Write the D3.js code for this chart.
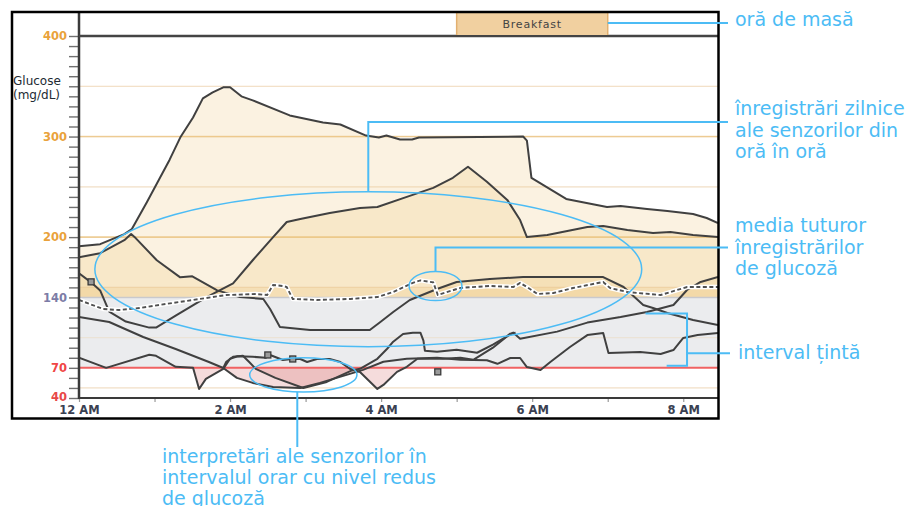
<!DOCTYPE html>
<html><head><meta charset="utf-8">
<script src="https://cdn.jsdelivr.net/npm/d3@7"></script>
<style>body{margin:0;background:#fff}svg{display:block}text{font-family:'DejaVu Sans',sans-serif}</style>
</head><body>
<svg id="c" width="907" height="506"></svg>
<script>
// ---------- DATA (hours after midnight, mg/dL) ----------
const traceA = [[0,191],[0.28,193],[0.6,203],[0.70,208],[0.9,235],[1.2,277],[1.34,299],[1.51,319],[1.64,338],[1.77,344],[1.91,349],[2.0,349],[2.15,340],[2.30,336],[2.79,321],[3.23,314],[3.46,312],[3.80,301],[3.97,299],[4.07,301],[4.25,297],[4.41,297],[4.50,299],[5.88,300],[5.93,296],[5.99,259],[6.45,238],[6.99,230],[7.17,231],[7.52,228],[7.79,226],[8.13,223],[8.31,219],[8.46,214]];
const traceB = [[0,164],[0.16,155],[0.28,147],[0.40,126],[0.62,116],[0.93,110],[1.02,110],[1.28,122],[1.64,138],[1.81,145],[2.04,154],[2.30,177],[2.57,200],[2.75,215],[2.93,218],[3.32,224],[3.72,229],[3.95,230],[4.34,240],[4.69,249],[4.95,259],[5.15,270],[5.40,255],[5.67,237],[5.84,217],[5.93,200],[6.20,202],[6.73,210],[6.94,211],[7.26,207],[7.6,204],[7.83,205],[8.13,202],[8.46,200]];
const traceC = [[0,180],[0.28,184],[0.6,197],[0.69,203],[0.75,199],[1.03,177],[1.34,160],[1.5,161],[1.83,147],[2.13,140.5],[2.44,138.5],[2.53,128.5],[2.66,110.6],[3.06,107.6],[3.85,107.6],[3.99,115.6],[4.16,125.5],[4.38,137.5],[4.74,148.4],[5.0,155.4],[5.44,158.3],[5.88,160.3],[6.94,160.3],[7.21,150.4],[7.47,132.5],[7.6,129.5],[7.79,124.5],[8.13,117.6],[8.46,112.6]];
const traceE = [[0,80],[0.36,70],[0.93,83],[1.02,82],[1.28,71],[1.51,70],[1.59,49],[1.68,59],[1.91,69],[2.0,79],[2.1,81.5],[2.3,81],[2.47,80],[2.53,82.8],[2.70,77.8],[2.82,78.8],[2.93,78.8],[3.02,75.8],[3.15,78.8],[3.32,78.8],[3.46,75.8],[3.59,68.8],[3.72,65.8],[3.95,49],[4.03,53],[4.21,66],[4.34,71],[4.48,79],[4.82,79],[5.05,80],[5.22,78],[5.48,90],[5.71,104],[5.78,105]];
const traceF = [[0,120.5],[0.40,115.6],[0.85,100.7],[1.28,88.7],[1.72,75.8],[1.91,69.8],[2.09,60],[2.30,55],[2.57,51],[2.93,50],[3.19,55],[3.63,65],[3.76,68],[4.03,76],[4.34,79],[4.74,80],[5.05,78],[5.40,77.5],[5.54,74],[5.71,79.8],[5.84,79.8],[5.93,70.8],[6.11,67.8],[6.24,75.8],[6.50,90.7],[6.73,102.6],[6.94,104.6],[7.01,84.7],[7.43,85.7],[7.70,83.8],[7.87,87.7],[8.0,99.7],[8.19,102.6],[8.46,104.6]];
const traceG = [[1.91,69.8],[1.95,76],[2.04,81],[2.17,82],[2.25,76],[2.34,69],[2.6,60],[2.97,50],[3.28,56],[3.60,67],[3.72,69],[3.95,79],[4.08,89],[4.16,96],[4.29,103.6],[4.42,105],[4.52,105],[4.56,97],[4.58,87],[4.74,86],[5.0,88],[5.27,85],[5.48,93],[5.75,105],[5.84,99],[6.33,106],[6.73,115],[7.17,120.5],[7.52,125.5],[7.87,132.5],[8.05,147.4],[8.23,155.4],[8.46,160.3]];
const meanTrace = [[0,137.5],[0.32,128.5],[0.53,127.5],[0.81,129.5],[1.06,132.5],[1.51,137.5],[1.95,142.4],[2.34,143.4],[2.49,142.4],[2.57,152.4],[2.70,151.4],[2.75,150.4],[2.83,138.5],[3.15,137.5],[3.59,138.5],[3.95,140.4],[4.16,145.4],[4.42,154.5],[4.52,157],[4.69,155],[4.75,142.5],[5.05,149.5],[5.44,151.4],[5.75,150.4],[5.84,154.4],[5.93,150.4],[6.07,143.4],[6.28,144.4],[6.54,149.4],[6.94,155.4],[7.03,149.4],[7.26,145.4],[7.70,142.4],[8.05,150.4],[8.46,150.4]];
const markers = [[0.16,155.5],[2.5,82.8],[2.83,78.8],[4.75,66]];
const yTickLabels = [400,300,200,140,70,40];
const yTickColors = ["#e9a23b","#e9a23b","#e9a23b","#7c7ca6","#f04545","#e84848"];
const xTickHours = [0,2,4,6,8];
const xTickLabels = ["12 AM","2 AM","4 AM","6 AM","8 AM"];
const gridValues = [350,300,250,200,150,100,50];
const eventLabels = ["Breakfast"];
const eventStart = [5];
const eventEnd = [7];
const targetLow = 70, targetHigh = 140;

// ---------- SCALES ----------
const x = d3.scaleLinear().domain([0, 8.46]).range([79, 718]);
const y = d3.scaleLinear().domain([40, 400]).range([398, 36]);
const svg = d3.select("#c");
const line = d3.line().x(d => x(d[0])).y(d => y(d[1]));
const traces = [traceA, traceB, traceC, traceE, traceF, traceG];

const defs = svg.append("defs");
defs.append("clipPath").attr("id","plot").append("rect")
  .attr("x",x(0)).attr("y",y(400)).attr("width",x(8.46)-x(0)).attr("height",y(40)-y(400));
defs.append("clipPath").attr("id","above").append("rect")
  .attr("x",x(0)).attr("y",y(400)).attr("width",x(8.46)-x(0)).attr("height",y(targetHigh)-y(400));
defs.append("clipPath").attr("id","below").append("rect")
  .attr("x",x(0)).attr("y",y(targetLow)).attr("width",x(8.46)-x(0)).attr("height",y(40)-y(targetLow));

const plot = svg.append("g").attr("clip-path","url(#plot)");

// grid
plot.selectAll("line.grid").data(gridValues).join("line").attr("class","grid")
  .attr("x1",x(0)).attr("x2",x(8.46)).attr("y1",d=>y(d)).attr("y2",d=>y(d))
  .attr("stroke",d => (d===300||d===200) ? "#f1d6aa" : "#f6eadb")
  .attr("stroke-width",d => (d===300||d===200) ? 1.6 : 1.2);

// target band
plot.append("rect").attr("x",x(0)).attr("width",x(8.46)-x(0))
  .attr("y",y(targetHigh)).attr("height",y(targetLow)-y(targetHigh)).attr("fill","#ebecee");
// strip just above target
plot.append("rect").attr("x",x(0)).attr("width",x(8.46)-x(0))
  .attr("y",y(150)).attr("height",y(targetHigh)-y(150)).attr("fill","rgba(235,190,110,0.22)");

// high fills
const areaHigh = d3.area().x(d=>x(d[0])).y0(y(targetHigh)).y1(d=>y(d[1]));
plot.append("g").attr("clip-path","url(#above)").selectAll("path").data(traces).join("path")
  .attr("d",areaHigh).attr("fill","rgba(236,196,120,0.22)");
// low fills
const areaLow = d3.area().x(d=>x(d[0])).y0(y(targetLow)).y1(d=>y(d[1]));
plot.append("g").attr("clip-path","url(#below)").selectAll("path").data(traces).join("path")
  .attr("d",areaLow).attr("fill","rgba(215,110,110,0.24)");

// grid again faintly over fills
plot.selectAll("line.grid2").data(gridValues).join("line").attr("class","grid2")
  .attr("x1",x(0)).attr("x2",x(8.46)).attr("y1",d=>y(d)).attr("y2",d=>y(d))
  .attr("stroke",d => (d===300||d===200) ? "rgba(232,190,120,0.45)" : "rgba(235,205,160,0.3)")
  .attr("stroke-width",1.2);

// target lines
plot.append("line").attr("x1",x(0)).attr("x2",x(8.46)).attr("y1",y(targetHigh)).attr("y2",y(targetHigh))
  .attr("stroke","#c9c9cd").attr("stroke-width",1.5);
plot.append("line").attr("x1",x(0)).attr("x2",x(8.46)).attr("y1",y(targetLow)).attr("y2",y(targetLow))
  .attr("stroke","#f06262").attr("stroke-width",2);

// traces
plot.append("g").selectAll("path").data(traces).join("path")
  .attr("d",line).attr("fill","none").attr("stroke","#404040").attr("stroke-width",2)
  .attr("stroke-linejoin","round");

// mean
plot.append("path").datum(meanTrace).attr("d",line).attr("fill","none")
  .attr("stroke","#fff").attr("stroke-width",4.5).attr("stroke-linejoin","round");
plot.append("path").datum(meanTrace).attr("d",line).attr("fill","none")
  .attr("stroke","#505050").attr("stroke-width",1.9).attr("stroke-dasharray","4,2.5");

// markers
plot.selectAll("rect.mk").data(markers).join("rect").attr("class","mk")
  .attr("x",d=>x(d[0])-3).attr("y",d=>y(d[1])-3).attr("width",6).attr("height",6)
  .attr("fill","#9a9a9a").attr("stroke","#3a3a3a").attr("stroke-width",1.3);

// axes
const yAxis = d3.axisLeft(y).tickValues(d3.range(40,401,10)).tickSize(10).tickPadding(2)
  .tickFormat(d => yTickLabels.includes(d) ? String(d) : "");
const gy = svg.append("g").attr("transform",`translate(${x(0)},0)`).call(yAxis);
gy.select(".domain").remove();
gy.selectAll(".tick line").attr("stroke","#707070").attr("stroke-width",1.4);
gy.selectAll(".tick text").style("font-size","11.5px").style("font-weight","bold")
  .attr("fill", d => { const i = yTickLabels.indexOf(d); return i>=0 ? yTickColors[i] : "#000"; });
gy.selectAll(".tick text").filter(d => d === 40).attr("dy","0.2em");

const xAxis = d3.axisBottom(x).tickValues(d3.range(0,9,1)).tickSize(4).tickPadding(4)
  .tickFormat(d => { const i = xTickHours.indexOf(d); return i>=0 ? xTickLabels[i] : ""; });
const gx = svg.append("g").attr("transform",`translate(0,${y(40)})`).call(xAxis);
gx.select(".domain").remove();
gx.selectAll(".tick line").attr("stroke","#999").attr("stroke-width",1.2);
gx.selectAll(".tick text").style("font-size","11.5px").style("font-weight","bold").attr("fill","#3a4152");

// axis lines
svg.append("line").attr("x1",x(0)).attr("x2",x(0)).attr("y1",12).attr("y2",y(40)+1)
  .attr("stroke","#3a3a3a").attr("stroke-width",2.5);
svg.append("line").attr("x1",x(0)).attr("x2",x(8.46)).attr("y1",y(40)).attr("y2",y(40))
  .attr("stroke","#3a3a3a").attr("stroke-width",2);
svg.append("line").attr("x1",x(0)).attr("x2",x(8.46)).attr("y1",y(400)).attr("y2",y(400))
  .attr("stroke","#444").attr("stroke-width",2.5);

// y title
const yt = svg.append("text").attr("fill","#222a33").style("font-size","12px");
yt.append("tspan").attr("x",13).attr("y",85).text("Glucose");
yt.append("tspan").attr("x",13).attr("y",99).text("(mg/dL)");

// event bar
const ev = svg.append("g").selectAll("g").data(eventLabels).join("g");
ev.append("rect").attr("x",(d,i)=>x(eventStart[i])).attr("y",13)
  .attr("width",(d,i)=>x(eventEnd[i])-x(eventStart[i])).attr("height",y(400)-14)
  .attr("fill","#f1d0a0");
ev.append("line").attr("x1",(d,i)=>x(eventStart[i])).attr("x2",(d,i)=>x(eventStart[i]))
  .attr("y1",13).attr("y2",y(400)-1).attr("stroke","#e2b070").attr("stroke-width",1.5);
ev.append("line").attr("x1",(d,i)=>x(eventEnd[i])).attr("x2",(d,i)=>x(eventEnd[i]))
  .attr("y1",13).attr("y2",y(400)-1).attr("stroke","#e2b070").attr("stroke-width",1.5);
ev.append("text").attr("x",(d,i)=>(x(eventStart[i])+x(eventEnd[i]))/2).attr("y",28)
  .attr("text-anchor","middle").attr("fill","#444").style("font-size","11px")
  .style("letter-spacing","0.8px").text(d=>d);

// frame
svg.append("rect").attr("x",12).attr("y",12).attr("width",706.5).attr("height",406.5)
  .attr("fill","none").attr("stroke","#000").attr("stroke-width",2.5);

// ---------- ANNOTATIONS ----------
const blue = "#4cbcf5";
const ann = svg.append("g").attr("fill","none").attr("stroke",blue);
const ellipses = [[3.83,168,3.62,77],[4.72,151.4,0.35,14.5],[2.97,63,0.71,17]];
ann.selectAll("ellipse").data(ellipses).join("ellipse")
  .attr("cx",d=>x(d[0])).attr("cy",d=>y(d[1]))
  .attr("rx",d=>x(d[0]+d[2])-x(d[0])).attr("ry",d=>y(d[1]-d[3])-y(d[1]))
  .attr("stroke-width",1.5);
ann.append("path").attr("stroke-width",2)
  .attr("d",`M${x(7)},23H728`);
ann.append("path").attr("stroke-width",2)
  .attr("d",`M${x(3.83)},${y(168+77)}V122H728`);
ann.append("path").attr("stroke-width",2)
  .attr("d",`M${x(4.72)},${y(151.4+14.5)}V247.5H728`);
ann.append("path").attr("stroke-width",2)
  .attr("d",`M${x(7.5)},${y(124)}H${x(8.05)}V${y(72)}H${x(7.78)}M${x(8.05)},${y(84.5)}H730`);
ann.append("path").attr("stroke-width",2)
  .attr("d",`M${x(2.89)},${y(63-17)}V447`);

const notes = [
  {x:735, y:[26], t:["oră de masă"]},
  {x:735, y:[115,137,158], t:["înregistrări zilnice","ale senzorilor din","oră în oră"]},
  {x:735, y:[232,254,275], t:["media tuturor","înregistrărilor","de glucoză"]},
  {x:738, y:[359], t:["interval țintă"]},
  {x:162, y:[463,484,505], t:["interpretări ale senzorilor în","intervalul orar cu nivel redus","de glucoză"]}
];
notes.forEach(n => {
  n.t.forEach((s,i) => {
    svg.append("text").attr("x",n.x).attr("y",n.y[i]).attr("fill",blue)
      .style("font-size","19px").text(s);
  });
});
</script>
</body></html>
